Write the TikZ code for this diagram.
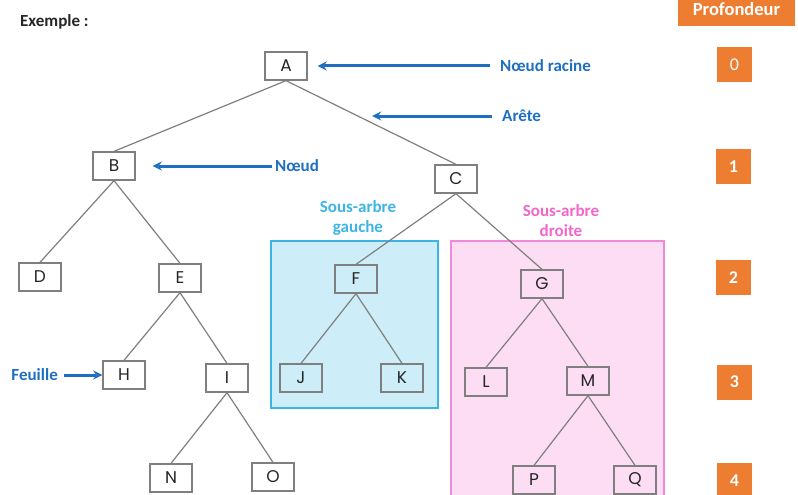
\documentclass[tikz,border=0pt]{standalone}
\usepackage{fontspec}
\setmainfont{Carlito}
\newfontfamily\letterfont{Poppins}
\usetikzlibrary{arrows}
\definecolor{orangeprof}{HTML}{ED7D31}
\definecolor{bluearrow}{HTML}{1F6FC0}
\definecolor{cyansub}{HTML}{3CB4E6}
\definecolor{cyanfill}{HTML}{CDEDF8}
\definecolor{pinksub}{HTML}{F266CC}
\definecolor{pinkline}{HTML}{F08AD8}
\definecolor{pinkfill}{HTML}{FDDDF3}
\definecolor{edgegray}{HTML}{7F7F7F}
\tikzstyle{treenode} = [rectangle, minimum width=42pt, minimum height=28pt, text centered, draw=edgegray, line width=1.3pt, text=black!85, font=\letterfont\fontsize{17}{18}\selectfont]
\tikzstyle{edge} = [draw=edgegray, line width=1.2pt]
\tikzstyle{depth} = [rectangle, minimum width=35pt, minimum height=35pt, fill=orangeprof, text=white, font=\bfseries\fontsize{18}{20}\selectfont]
\tikzstyle{legend} = [inner sep=0pt, text=bluearrow, font=\bfseries\fontsize{17}{18}\selectfont]
\tikzstyle{subtitle} = [align=center, font=\bfseries\fontsize{17}{20}\selectfont]
\tikzstyle{arrow} = [bluearrow, line width=3pt, ->, >=stealth]

\begin{document}
\begin{tikzpicture}[x=1pt, y=-1pt]
		\useasboundingbox (0,0) rectangle (798,495);
		\node (exemple) [anchor=west, inner sep=0pt, text=black!85, font=\bfseries\fontsize{17}{18}\selectfont] at (20,22) {Exemple :};
		\node (profondeur) [rectangle, fill=orangeprof, minimum width=117pt, minimum height=35pt, text=white, font=\bfseries\fontsize{18.5}{20}\selectfont] at (736.5,9) {Profondeur};
		
		\draw [draw=cyansub, fill=cyanfill, line width=1.5pt] (271,241) rectangle (438,408);
		\draw [draw=pinkline, fill=pinkfill, line width=1.5pt] (451,241) rectangle (664,510);
		\node (gauche) [subtitle, text=cyansub] at (358,218) {Sous-arbre\\gauche};
		\node (droite) [subtitle, text=pinksub] at (561,221) {Sous-arbre\\droite};
		
		\node (A) [treenode] at (286,66) {A};
		\node (B) [treenode] at (114,166) {B};
		\node (C) [treenode] at (456,179) {C};
		\node (D) [treenode] at (40,277) {D};
		\node (E) [treenode] at (180,278) {E};
		\node (F) [treenode] at (356,279) {F};
		\node (G) [treenode] at (542,284) {G};
		\node (H) [treenode] at (124,375) {H};
		\node (I) [treenode] at (227,378) {I};
		\node (J) [treenode] at (301,378) {J};
		\node (K) [treenode] at (402,378) {K};
		\node (L) [treenode] at (486,382) {L};
		\node (M) [treenode] at (588,381) {M};
		\node (N) [treenode] at (171,478) {N};
		\node (O) [treenode] at (273,477) {O};
		\node (P) [treenode] at (534,480) {P};
		\node (Q) [treenode] at (635,480) {Q};
		\draw [edge] (A.south) -- (B.north);
		\draw [edge] (A.south) -- (C.north);
		\draw [edge] (B.south) -- (D.north);
		\draw [edge] (B.south) -- (E.north);
		\draw [edge] (C.south) -- (F.north);
		\draw [edge] (C.south) -- (G.north);
		\draw [edge] (E.south) -- (H.north);
		\draw [edge] (E.south) -- (I.north);
		\draw [edge] (F.south) -- (J.north);
		\draw [edge] (F.south) -- (K.north);
		\draw [edge] (G.south) -- (L.north);
		\draw [edge] (G.south) -- (M.north);
		\draw [edge] (I.south) -- (N.north);
		\draw [edge] (I.south) -- (O.north);
		\draw [edge] (M.south) -- (P.north);
		\draw [edge] (M.south) -- (Q.north);
		
		\node (racine) [legend, anchor=west] at (500,66) {Nœud racine};
		\node (arete) [legend, anchor=west] at (502,116) {Arête};
		\coordinate (arete_pt) at (372,116);
		\node (noeud) [legend, anchor=west] at (275,166) {Nœud};
		\node (feuille) [legend, anchor=east] at (58,375) {Feuille};
		\draw [arrow, shorten <=10pt, shorten >=10pt] (racine.west) -- (A.east);
		\draw [arrow, shorten <=10pt] (arete.west) -- (arete_pt);
		\draw [arrow, shorten <=3pt, shorten >=17pt] (noeud.west) -- (B.east);
		\draw [arrow, shorten <=6pt] (feuille.east) -- (H.west);
		
		\node (d0) [depth, font=\fontsize{18}{20}\selectfont] at (734.5,64.5) {0};
		\node (d1) [depth] at (733.5,166.5) {1};
		\node (d2) [depth] at (733.5,277.5) {2};
		\node (d3) [depth] at (734.5,382) {3};
		\node (d4) [depth] at (734.5,480.5) {4};
	\end{tikzpicture}
\end{document}
